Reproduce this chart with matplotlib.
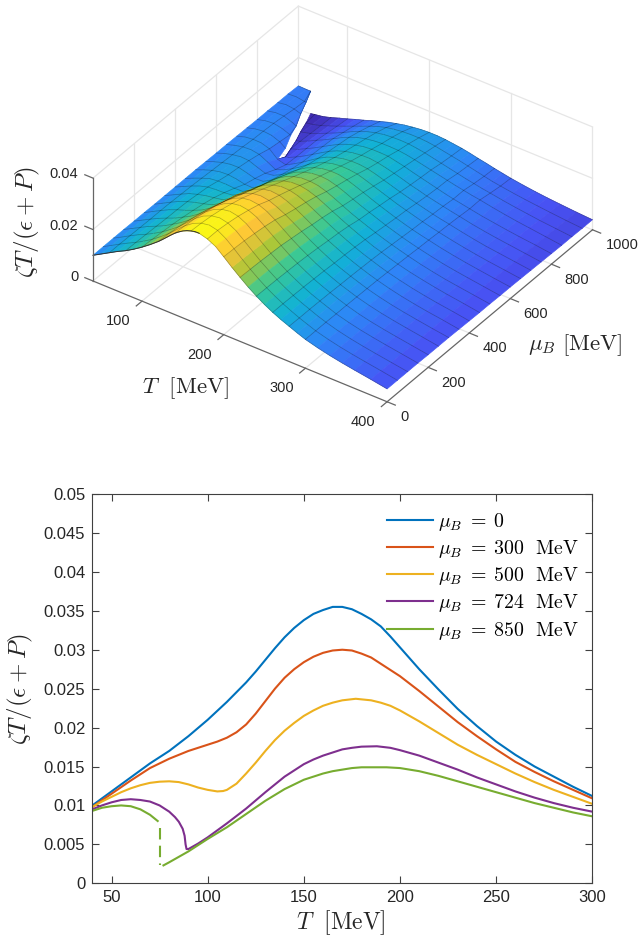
import matplotlib
matplotlib.use('Agg')
import matplotlib.pyplot as plt
import numpy as np
from matplotlib.colors import LinearSegmentedColormap, Normalize
from mpl_toolkits.mplot3d import proj3d

plt.rcParams['font.family'] = ['Liberation Sans', 'DejaVu Sans']
plt.rcParams['mathtext.fontset'] = 'cm'

# --- lower panel: slices at fixed mu_B (values x 1e-3) ---
T_0 = [40, 50, 60, 70, 80, 90, 100, 110, 120, 125, 130, 135, 140, 145, 150, 155, 160, 165, 170, 175, 180, 185, 190, 195, 200, 205, 210, 220, 230, 240, 250, 260, 270, 280, 290, 300]
z_0 = [10.0, 11.8, 13.6, 15.4, 17.0, 18.9, 21.0, 23.3, 25.8, 27.2, 28.7, 30.2, 31.6, 32.8, 33.8, 34.6, 35.1, 35.5, 35.5, 35.2, 34.6, 33.9, 33.0, 31.7, 30.3, 28.9, 27.5, 24.9, 22.4, 20.2, 18.2, 16.5, 15.0, 13.7, 12.4, 11.2]
T_300 = [40, 50, 60, 70, 80, 90, 100, 105, 110, 115, 120, 125, 130, 135, 140, 145, 150, 155, 160, 165, 170, 175, 180, 185, 190, 195, 200, 210, 220, 230, 240, 250, 260, 270, 280, 290, 300]
z_300 = [9.8, 11.5, 13.2, 14.8, 16.0, 17.0, 17.8, 18.2, 18.7, 19.4, 20.4, 21.8, 23.4, 25.0, 26.4, 27.5, 28.4, 29.1, 29.6, 29.9, 30.0, 29.9, 29.5, 29.0, 28.2, 27.4, 26.6, 24.7, 22.7, 20.7, 18.9, 17.2, 15.6, 14.3, 13.1, 12.0, 10.9]
T_500 = [40, 45, 50, 55, 60, 65, 70, 75, 80, 85, 90, 95, 100, 105, 108, 110, 115, 120, 125, 130, 135, 140, 145, 150, 155, 160, 165, 170, 177, 185, 190, 195, 200, 210, 220, 230, 240, 250, 260, 270, 280, 290, 300]
z_500 = [9.8, 10.5, 11.1, 11.7, 12.2, 12.6, 12.9, 13.05, 13.1, 13.0, 12.7, 12.3, 12.0, 11.8, 11.85, 12.0, 12.8, 14.1, 15.5, 17.0, 18.4, 19.6, 20.6, 21.5, 22.2, 22.8, 23.2, 23.5, 23.7, 23.5, 23.2, 22.8, 22.2, 20.8, 19.3, 17.8, 16.5, 15.3, 14.1, 13.0, 12.0, 11.1, 10.2]
T_724 = [40, 45, 50, 55, 60, 65, 70, 75, 80, 83, 85, 87, 88, 88.5, 89, 90, 95, 100, 110, 120, 130, 140, 145, 150, 155, 160, 165, 170, 175, 180, 188, 195, 200, 210, 220, 230, 240, 250, 260, 270, 280, 290, 300]
z_724 = [9.5, 10.0, 10.4, 10.7, 10.8, 10.7, 10.5, 10.0, 9.2, 8.5, 7.9, 7.0, 6.1, 5.0, 4.4, 4.4, 5.1, 5.9, 7.7, 9.6, 11.7, 13.7, 14.5, 15.3, 15.9, 16.4, 16.8, 17.2, 17.4, 17.55, 17.6, 17.4, 17.1, 16.4, 15.5, 14.6, 13.6, 12.7, 11.8, 11.0, 10.3, 9.7, 9.2]
T_850a = [40, 45, 50, 55, 60, 65, 70, 74]
z_850a = [9.3, 9.7, 9.9, 10.0, 9.9, 9.5, 8.8, 8.0]
T_850b = [75, 75]
z_850b = [7.1, 2.3]
T_850c = [77, 80, 90, 100, 110, 120, 130, 140, 150, 155, 160, 165, 170, 175, 180, 185, 193, 200, 210, 220, 230, 240, 250, 260, 270, 280, 290, 300]
z_850c = [2.3, 2.7, 4.1, 5.7, 7.2, 8.9, 10.6, 12.1, 13.3, 13.7, 14.1, 14.4, 14.6, 14.8, 14.9, 14.9, 14.9, 14.8, 14.4, 13.8, 13.1, 12.4, 11.7, 11.0, 10.3, 9.7, 9.1, 8.6]

x_ticks = [50, 100, 150, 200, 250, 300]
y_ticks = [0, 0.005, 0.01, 0.015, 0.02, 0.025, 0.03, 0.035, 0.04, 0.045, 0.05]
y_labels = ['0', '0.005', '0.01', '0.015', '0.02', '0.025', '0.03', '0.035', '0.04', '0.045', '0.05']

# --- upper panel: surface table (values x 1e-3) ---
mu_rows = [0, 50, 100, 150, 200, 250, 300, 350, 400, 450, 500, 550, 600, 650, 700, 750, 800, 850, 900, 950, 1000]
# where the surface tears apart (T = 90 is only a plain seam below the tear)
T_seam = [90] * 15 + [87, 81, 75, 68, 62, 55]

T_low = [40, 50, 60, 70, 80, 90]
z_low = [
    [10.0, 11.8, 13.6, 15.4, 17.0, 18.9],
    [10.0, 11.8, 13.6, 15.3, 16.9, 18.7],
    [10.0, 11.7, 13.5, 15.2, 16.7, 18.4],
    [10.0, 11.7, 13.4, 15.1, 16.5, 18.0],
    [9.9, 11.6, 13.3, 14.9, 16.3, 17.6],
    [9.9, 11.6, 13.3, 14.9, 16.2, 17.3],
    [9.8, 11.5, 13.2, 14.8, 16.0, 17.0],
    [9.8, 11.4, 13.0, 14.5, 15.5, 16.3],
    [9.8, 11.3, 12.8, 14.1, 15.0, 15.3],
    [9.8, 11.2, 12.5, 13.6, 14.0, 14.0],
    [9.8, 11.1, 12.2, 12.9, 13.1, 12.7],
    [9.7, 10.9, 11.9, 12.5, 12.6, 11.8],
    [9.6, 10.8, 11.6, 12.1, 11.9, 10.7],
    [9.6, 10.6, 11.3, 11.5, 11.0, 9.4],
    [9.5, 10.5, 10.9, 10.8, 9.8, 7.0],
    [9.4, 10.3, 10.7, 10.4, 9.2, 7.6],
    [9.3, 10.1, 10.4, 9.8, 8.6, 8.5],
    [9.3, 9.9, 9.9, 8.8, 8.0, 8.0],
    [9.2, 9.7, 9.3, 8.5, 8.5, 8.5],
    [9.2, 9.4, 8.9, 8.9, 8.9, 8.9],
    [9.0, 8.9, 8.9, 8.9, 8.9, 8.9],
]

# just above the tear, rows 700..1000: value at the seam, then at T = 60, 70, 80
z_tear = [
    [7.0, 7.0, 7.0, 7.0],
    [4.2, 4.2, 4.2, 4.2],
    [3.2, 3.2, 3.2, 3.2],
    [2.3, 2.3, 2.3, 2.7],
    [1.5, 1.5, 1.6, 2.4],
    [0.8, 0.8, 1.3, 2.1],
    [0.2, 0.5, 1.0, 1.9],
]
T_tear = [0, 60, 70, 80]

T_high = [90, 100, 110, 120, 130, 140, 150, 160, 170, 180, 190, 200, 210, 220, 230, 240, 250, 260, 270, 280, 290, 300, 315, 330, 345, 360, 380, 400]
z_high = [
    [18.9, 21.0, 23.3, 25.8, 28.7, 31.6, 33.8, 35.1, 35.5, 34.6, 33.0, 30.3, 27.5, 24.9, 22.4, 20.2, 18.2, 16.5, 15.0, 13.7, 12.4, 11.2, 9.9, 8.8, 7.9, 7.1, 6.1, 5.0],
    [18.7, 20.7, 23.0, 25.5, 28.4, 31.2, 33.4, 34.8, 35.3, 34.6, 32.7, 30.1, 27.3, 24.7, 22.3, 20.1, 18.2, 16.5, 15.0, 13.6, 12.4, 11.2, 9.9, 8.8, 7.9, 7.1, 6.1, 5.0],
    [18.4, 20.3, 22.5, 24.9, 27.8, 30.7, 32.9, 34.3, 34.8, 34.1, 32.4, 29.8, 27.1, 24.5, 22.2, 20.0, 18.1, 16.4, 14.9, 13.6, 12.3, 11.2, 9.8, 8.7, 7.8, 7.0, 6.0, 5.0],
    [18.0, 19.9, 21.8, 24.1, 27.0, 29.9, 32.1, 33.5, 34.0, 33.4, 31.8, 29.3, 26.7, 24.2, 21.9, 19.8, 18.0, 16.3, 14.8, 13.5, 12.3, 11.1, 9.8, 8.7, 7.8, 7.0, 6.0, 5.0],
    [17.6, 19.3, 21.0, 23.2, 26.0, 28.9, 31.0, 32.4, 32.9, 32.4, 31.0, 28.7, 26.3, 23.9, 21.6, 19.6, 17.8, 16.1, 14.7, 13.4, 12.2, 11.1, 9.7, 8.6, 7.7, 6.9, 5.9, 4.9],
    [17.3, 18.6, 20.0, 22.0, 24.8, 27.7, 29.8, 31.2, 31.6, 31.2, 29.9, 27.9, 25.6, 23.3, 21.2, 19.3, 17.5, 15.9, 14.5, 13.2, 12.1, 11.0, 9.7, 8.6, 7.7, 6.9, 5.9, 4.9],
    [17.0, 17.8, 18.7, 20.5, 23.4, 26.4, 28.4, 29.6, 30.0, 29.5, 28.2, 26.6, 24.7, 22.7, 20.7, 18.9, 17.2, 15.6, 14.3, 13.1, 12.0, 10.9, 9.6, 8.5, 7.6, 6.8, 5.8, 4.9],
    [16.3, 16.8, 17.4, 19.0, 21.8, 24.6, 26.6, 28.0, 28.5, 28.2, 27.1, 25.6, 23.8, 21.9, 20.1, 18.4, 16.9, 15.4, 14.1, 12.9, 11.8, 10.8, 9.5, 8.4, 7.5, 6.7, 5.8, 4.8],
    [15.3, 15.4, 15.8, 17.2, 20.0, 22.8, 24.9, 26.2, 26.9, 26.8, 26.0, 24.7, 23.0, 21.3, 19.6, 18.0, 16.5, 15.1, 13.8, 12.7, 11.6, 10.6, 9.4, 8.3, 7.4, 6.6, 5.7, 4.7],
    [14.0, 13.8, 13.9, 15.6, 18.5, 21.1, 23.1, 24.5, 25.2, 25.3, 24.7, 23.6, 22.1, 20.5, 18.9, 17.4, 16.0, 14.7, 13.4, 12.4, 11.3, 10.4, 9.2, 8.2, 7.3, 6.5, 5.6, 4.6],
    [12.7, 12.0, 11.9, 14.1, 17.0, 19.6, 21.5, 22.8, 23.5, 23.6, 23.2, 22.2, 20.8, 19.3, 17.8, 16.5, 15.3, 14.1, 13.0, 12.0, 11.1, 10.2, 9.0, 8.0, 7.1, 6.4, 5.5, 4.6],
    [11.8, 10.9, 11.1, 12.9, 15.4, 17.9, 19.9, 21.2, 22.0, 22.3, 22.0, 21.1, 19.9, 18.5, 17.2, 16.0, 14.8, 13.6, 12.6, 11.6, 10.7, 9.9, 8.8, 7.8, 7.0, 6.3, 5.4, 4.5],
    [10.7, 9.6, 10.1, 11.7, 13.9, 16.2, 18.2, 19.6, 20.5, 20.9, 20.8, 20.1, 19.0, 17.8, 16.5, 15.3, 14.2, 13.1, 12.1, 11.2, 10.4, 9.7, 8.6, 7.7, 6.9, 6.2, 5.3, 4.5],
    [9.4, 7.7, 8.9, 10.6, 12.6, 14.9, 16.8, 18.2, 19.1, 19.5, 19.4, 19.0, 18.0, 16.9, 15.8, 14.7, 13.6, 12.7, 11.8, 10.9, 10.1, 9.4, 8.4, 7.5, 6.7, 6.0, 5.2, 4.4],
    [7.0, 6.2, 7.9, 9.8, 11.9, 14.0, 15.7, 16.9, 17.7, 18.1, 18.1, 17.7, 16.9, 15.9, 14.9, 13.9, 13.0, 12.1, 11.3, 10.5, 9.8, 9.2, 8.2, 7.3, 6.5, 5.9, 5.1, 4.3],
    [4.4, 5.9, 7.6, 9.5, 11.4, 13.3, 14.8, 15.9, 16.6, 17.0, 17.1, 16.7, 16.0, 15.2, 14.3, 13.3, 12.5, 11.6, 10.9, 10.2, 9.5, 8.9, 7.9, 7.1, 6.4, 5.8, 5.0, 4.2],
    [4.2, 5.8, 7.4, 9.2, 11.0, 12.7, 14.0, 15.0, 15.7, 16.0, 16.0, 15.9, 15.2, 14.5, 13.6, 12.8, 12.0, 11.2, 10.4, 9.7, 9.1, 8.5, 7.6, 6.9, 6.2, 5.6, 4.9, 4.1],
    [4.1, 5.7, 7.2, 8.9, 10.6, 12.1, 13.3, 14.1, 14.6, 14.9, 14.9, 14.8, 14.4, 13.8, 13.1, 12.4, 11.7, 11.0, 10.3, 9.7, 9.1, 8.6, 7.7, 6.9, 6.2, 5.6, 4.8, 4.0],
    [3.7, 5.1, 6.5, 8.0, 9.6, 11.0, 12.2, 13.1, 13.7, 14.0, 14.1, 14.0, 13.6, 13.1, 12.4, 11.7, 11.0, 10.3, 9.6, 9.0, 8.4, 7.9, 7.1, 6.4, 5.8, 5.2, 4.6, 4.0],
    [3.3, 4.5, 5.8, 7.1, 8.4, 9.7, 10.9, 11.8, 12.4, 12.8, 13.0, 13.0, 12.8, 12.4, 11.8, 11.2, 10.6, 9.9, 9.2, 8.5, 7.8, 7.3, 6.6, 6.0, 5.5, 5.0, 4.4, 3.9],
    [3.0, 4.0, 5.1, 6.1, 7.2, 8.2, 9.2, 10.0, 10.7, 11.2, 11.6, 11.8, 11.8, 11.6, 11.2, 10.8, 10.2, 9.5, 8.9, 8.2, 7.6, 7.0, 6.3, 5.7, 5.2, 4.8, 4.3, 3.9],
]

T_ticks3d = [100, 200, 300, 400]
mu_ticks3d = [0, 200, 400, 600, 800, 1000]
z_ticks3d = [0, 0.02, 0.04]
z_labels3d = ['0', '0.02', '0.04']
T_meshlines = [60, 80, 100, 120, 140, 160, 180, 200, 220, 240, 260, 280, 300]

parula = LinearSegmentedColormap.from_list('parula', [
    (0.2422, 0.1504, 0.6603), (0.2810, 0.3228, 0.9579), (0.1786, 0.5289, 0.9682),
    (0.0689, 0.6948, 0.8394), (0.2161, 0.7843, 0.5923), (0.6720, 0.7793, 0.2227),
    (0.9970, 0.7659, 0.2199), (0.9769, 0.9839, 0.0805)])
norm = Normalize(0, 0.0355)

W, H = 642, 940
fig = plt.figure(figsize=(W / 100, H / 100), dpi=100)

# --- upper panel ---
ax3 = fig.add_axes([0, (H - 521) / H, 1, W / H], projection='3d', proj_type='ortho', computed_zorder=False)
ax3.view_init(elev=35.9, azim=-55.0)
ax3.set_xlim(40, 400, view_margin=0)
ax3.set_ylim(0, 1000, view_margin=0)
ax3.set_zlim(0, 0.04, view_margin=0)
ax3.set_axis_off()

mu_arr = np.array(mu_rows, dtype=float)
seam = np.array(T_seam, dtype=float)
high = np.array(z_high)


def draw_piece(T_g, mu_g, Z, cols, zo):
    # cell colours from the mean of the four corners, then the mesh lines on top
    avg = (Z[:-1, :-1] + Z[1:, :-1] + Z[:-1, 1:] + Z[1:, 1:]) / 4
    avg = np.pad(avg, ((0, 1), (0, 1)), mode='edge')
    ax3.plot_surface(T_g, mu_g, Z, facecolors=parula(norm(avg)), rstride=1, cstride=1,
                     shade=False, linewidth=0.45, zorder=zo)
    for j in range(T_g.shape[0]):
        ax3.plot(T_g[j], mu_g[j], Z[j], color=(0, 0, 0, 0.3), lw=0.5, zorder=zo + 0.5)
    for c in range(T_g.shape[1]):
        if cols[c] in T_meshlines:
            ax3.plot(T_g[:, c], mu_g[:, c], Z[:, c], color=(0, 0, 0, 0.3), lw=0.5, zorder=zo + 0.5)


# low T side of the tear
low_cols = np.array(T_low, dtype=float)
T_g = np.minimum(np.tile(low_cols, (len(mu_rows), 1)), seam[:, None])
mu_g = np.tile(mu_arr[:, None], (1, len(T_low)))
draw_piece(T_g, mu_g, np.array(z_low) * 1e-3, T_low, 2)

# high T side, just above the tear
tear_cols = np.array(T_tear + [90], dtype=float)
T_g = np.maximum(np.tile(tear_cols, (7, 1)), seam[14:, None])
mu_g = np.tile(mu_arr[14:, None], (1, len(tear_cols)))
draw_piece(T_g, mu_g, np.hstack([np.array(z_tear), high[14:, :1]]) * 1e-3, T_tear + [90], 3)

# high T side from T = 90: rising flank first, front slope over it
crest = T_high.index(170)
high_cols = np.array(T_high, dtype=float)
T_g = np.tile(high_cols, (len(mu_rows), 1))
mu_g = np.tile(mu_arr[:, None], (1, len(T_high)))
Z_h = high * 1e-3
draw_piece(T_g[:, :crest + 1], mu_g[:, :crest + 1], Z_h[:, :crest + 1], T_high[:crest + 1], 4)
draw_piece(T_g[:, crest:], mu_g[:, crest:], Z_h[:, crest:], T_high[crest:], 5)

# dark rim along mu = 0 up to the crest
ax3.plot(T_0[:19], [0] * 19, np.array(z_0[:19]) * 1e-3, color='#333333', lw=0.7, zorder=6)

# walls and floor
grid = dict(color='#e6e6e6', lw=0.9, zorder=1)
Tmin, Tmax, mumax, zmax = 40, 400, 1000, 0.04
for t in T_ticks3d[:-1]:
    ax3.plot([t, t], [0, mumax], [0, 0], **grid)
    ax3.plot([t, t], [mumax, mumax], [0, zmax], **grid)
for m in mu_ticks3d[1:-1]:
    ax3.plot([Tmin, Tmax], [m, m], [0, 0], **grid)
    ax3.plot([Tmin, Tmin], [m, m], [0, zmax], **grid)
for z in z_ticks3d:
    ax3.plot([Tmin, Tmin], [0, mumax], [z, z], **grid)
    ax3.plot([Tmin, Tmax], [mumax, mumax], [z, z], **grid)
ax3.plot([Tmin, Tmin], [mumax, mumax], [0, zmax], **grid)
ax3.plot([Tmax, Tmax], [mumax, mumax], [0, zmax], **grid)

# axis lines and ticks
line = dict(color='#666666', lw=0.9, zorder=7)
ax3.plot([Tmin, Tmax], [0, 0], [0, 0], **line)
ax3.plot([Tmax, Tmax], [0, mumax], [0, 0], **line)
ax3.plot([Tmin, Tmin], [0, 0], [0, zmax], **line)
for t in T_ticks3d:
    ax3.plot([t, t], [0, -28], [0, 0], **line)
for m in mu_ticks3d:
    ax3.plot([Tmax, Tmax + 10], [m, m], [0, 0], **line)
for z in z_ticks3d:
    ax3.plot([Tmin, Tmin - 10], [0, 0], [z, z], **line)


# fit the box on the picture: T=40,mu=0 at (93,281), T=400,mu=1000 at (592.5,230)
def corner_px(T, mu):
    x, y, _ = proj3d.proj_transform(T, mu, 0, ax3.get_proj())
    return ax3.transData.transform((x, y))


aspect = (359, 358, 127)
ax3.set_box_aspect(aspect, zoom=1.0)
fig.canvas.draw()
d = np.hypot(*(corner_px(400, 1000) - corner_px(40, 0)))
ax3.set_box_aspect(aspect, zoom=502.1 / d)
fig.canvas.draw()
p = corner_px(40, 0)
pos = ax3.get_position()
ax3.set_position([pos.x0 + (93 - p[0]) / W, pos.y0 + ((H - 281) - p[1]) / H, pos.width, pos.height])


# tick labels, placed through the 3d projection
def label3d(T, mu, z, s, **kw):
    x, y, _ = proj3d.proj_transform(T, mu, z, ax3.get_proj())
    ax3.text2D(x, y, s, transform=ax3.transData, color='#262626', fontsize=10.5, va='center', **kw)


for t in T_ticks3d:
    label3d(t, -117, 0, str(t), ha='center')
for m in mu_ticks3d:
    label3d(Tmax + 26, m - 39, 0, str(m), ha='left')
for z, s in zip(z_ticks3d, z_labels3d):
    label3d(Tmin - 16, -8, z, s, ha='right')

fig.text(27 / W, 1 - 222 / H, r'$\zeta T/(\epsilon+P)$', rotation=90, fontsize=18, ha='center', va='center', color='#262626')
fig.text(186 / W, 1 - 388 / H, r'$T\ \ [\mathrm{MeV}]$', fontsize=16.5, ha='center', va='center', color='#262626')
fig.text(575 / W, 1 - 345 / H, r'$\mu_B\ [\mathrm{MeV}]$', fontsize=16.5, ha='center', va='center', color='#262626')

# --- lower panel ---
ax = fig.add_axes([92.3 / W, (H - 883.3) / H, 500 / W, 389.3 / H])
ax.plot(T_0, np.array(z_0) * 1e-3, color='#0072BD', lw=1.5, label=r'$\mu_B\;=\;0$')
ax.plot(T_300, np.array(z_300) * 1e-3, color='#D95319', lw=1.5, label=r'$\mu_B\;=\;300\ \ \mathrm{MeV}$')
ax.plot(T_500, np.array(z_500) * 1e-3, color='#EDB120', lw=1.5, label=r'$\mu_B\;=\;500\ \ \mathrm{MeV}$')
ax.plot(T_724, np.array(z_724) * 1e-3, color='#7E2F8E', lw=1.5, label=r'$\mu_B\;=\;724\ \ \mathrm{MeV}$')
ax.plot(T_850a, np.array(z_850a) * 1e-3, color='#77AC30', lw=1.5, label=r'$\mu_B\;=\;850\ \ \mathrm{MeV}$')
ax.plot(T_850b, np.array(z_850b) * 1e-3, color='#77AC30', lw=1.5, ls=(0, (5.5, 3)))
ax.plot(T_850c, np.array(z_850c) * 1e-3, color='#77AC30', lw=1.5)

ax.set_xlim(40, 300)
ax.set_ylim(0, 0.05)
ax.set_xticks(x_ticks)
ax.set_yticks(y_ticks)
ax.set_yticklabels(y_labels)
ax.tick_params(direction='in', top=True, right=True, length=5, width=0.8, color='#404040',
               labelcolor='#262626', labelsize=12, pad=5)
for s in ax.spines.values():
    s.set_linewidth(0.8)
    s.set_color('#404040')
ax.set_xlabel(r'$T\ \ [\mathrm{MeV}]$', fontsize=17, color='#262626', va='center')
ax.xaxis.set_label_coords(0.497, -(923 - 883.3) / 389.3)
ax.set_ylabel(r'$\zeta T/(\epsilon+P)$', fontsize=18, color='#262626', va='center')
ax.yaxis.set_label_coords((20 - 92.3) / 500, 0.499)
ax.legend(loc='upper left', bbox_to_anchor=(0.556, 1.0), frameon=False, fontsize=14.3,
          handlelength=2.3, handletextpad=0.25, labelspacing=0.26, borderaxespad=0.45, borderpad=0.4)

fig.savefig('out.png', dpi=100)
